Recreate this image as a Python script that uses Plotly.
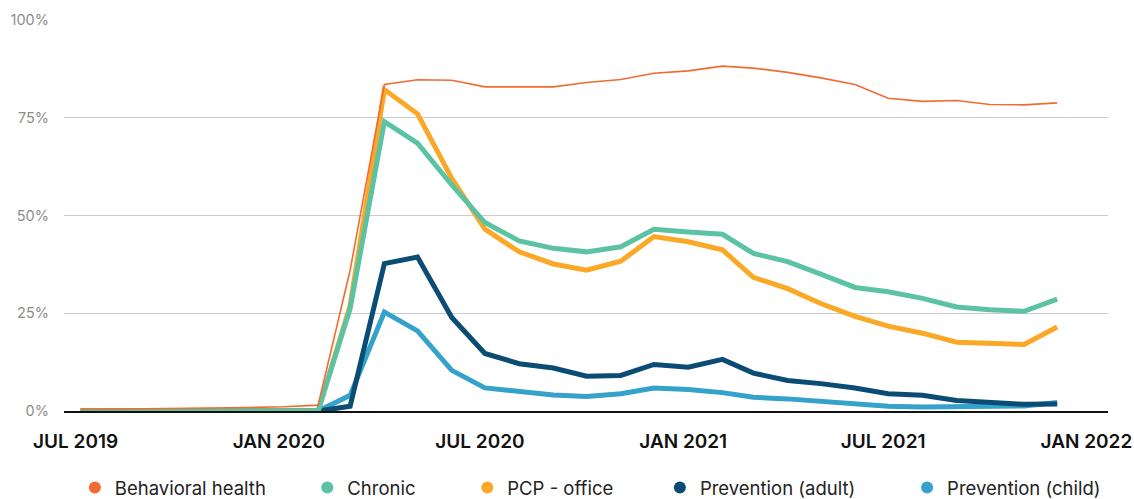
import pandas as pd
import plotly.graph_objects as go

# Monthly share of visits delivered via telehealth, by visit type (percent)
months = pd.date_range("2019-07-01", "2021-12-01", freq="MS")

behavioral_health = [0.4, 0.5, 0.5, 0.6, 0.7, 0.9, 1.1, 1.5, 36.0, 83.5,
                     84.7, 84.6, 82.9, 82.9, 82.9, 84.0, 84.8, 86.4, 87.0, 88.2,
                     87.7, 86.6, 85.2, 83.5, 80.0, 79.2, 79.4, 78.4, 78.3, 78.8]
chronic = [0, 0, 0, 0, 0, 0, 0, 0, 26.2, 74.0,
           68.5, 57.8, 48.2, 43.5, 41.6, 40.7, 42.0, 46.5, 45.8, 45.2,
           40.3, 38.2, 35.0, 31.6, 30.5, 28.8, 26.6, 25.9, 25.5, 28.6]
pcp_office = [0, 0, 0, 0, 0, 0, 0, 0, 27.0, 82.2,
              76.0, 59.5, 46.5, 40.7, 37.6, 36.0, 38.3, 44.6, 43.3, 41.2,
              34.2, 31.3, 27.5, 24.2, 21.7, 19.9, 17.6, 17.2, 17.0, 21.5]
prevention_adult = [0, 0, 0, 0, 0, 0, 0, 0, 1.2, 37.7,
                    39.4, 23.9, 14.7, 12.1, 11.0, 8.9, 9.1, 11.9, 11.2, 13.2,
                    9.7, 7.8, 7.0, 5.9, 4.4, 4.0, 2.7, 2.1, 1.7, 1.8]
prevention_child = [0, 0, 0, 0, 0, 0, 0, 0, 4.0, 25.3,
                    20.5, 10.4, 5.9, 5.1, 4.1, 3.7, 4.4, 5.9, 5.5, 4.7,
                    3.5, 3.1, 2.5, 1.7, 1.2, 1.0, 1.0, 1.2, 1.3, 2.2]

tick_dates = ["2019-07-01", "2020-01-01", "2020-07-01", "2021-01-01", "2021-07-01", "2022-01-01"]
tick_labels = ["JUL 2019", "JAN 2020", "JUL 2020", "JAN 2021", "JUL 2021", "JAN 2022"]
y_ticks = [0, 25, 50, 75, 100]
y_tick_labels = ["0%", "25%", "50%", "75%", "100%"]

# name, values, colour, line width, legend rank, legend padding
series = [
    ("Behavioral health", behavioral_health, "#F26B33", 1.6, 1, 7),
    ("Chronic", chronic, "#5BC3A4", 5, 2, 9),
    ("PCP - office", pcp_office, "#FBA826", 5, 3, 8),
    ("Prevention (adult)", prevention_adult, "#0B4C75", 5, 4, 9),
    ("Prevention (child)", prevention_child, "#35A2CB", 5, 5, 0),
]

fig = go.Figure()

# lines: drawn child first so the thin behavioral line sits on top
draw_order = [4, 3, 2, 1, 0]
for idx in draw_order:
    name, vals, color, width, rank, pad = series[idx]
    fig.add_trace(go.Scatter(
        x=months, y=vals, mode="lines", name=name,
        line=dict(color=color, width=width, shape="linear"),
        showlegend=False, hoverinfo="x+y+name",
    ))

# legend entries with round markers
for name, vals, color, width, rank, pad in series:
    fig.add_trace(go.Scatter(
        x=[None], y=[None], mode="markers",
        name=name + "\u00a0" * pad,
        marker=dict(color=color, size=15, symbol="circle"),
        legendrank=rank, showlegend=True,
    ))

fig.update_layout(
    width=1134, height=499,
    margin=dict(l=64, r=26, t=20, b=88, autoexpand=False),
    paper_bgcolor="white", plot_bgcolor="white",
    font=dict(family="Inter, Roboto, sans-serif", size=17, color="#222222"),
    showlegend=True,
    legend=dict(
        orientation="h", xref="container", yref="container",
        x=0.066, xanchor="left", y=0.022, yanchor="middle",
        font=dict(size=18.5, color="#222222"),
        itemsizing="constant", bgcolor="rgba(0,0,0,0)",
    ),
    xaxis=dict(
        type="date",
        range=["2019-06-16", "2022-01-16"],
        tickvals=tick_dates, ticktext=tick_labels,
        tickfont=dict(size=19, color="#111111", weight=600),
        showgrid=False, zeroline=False,
        showline=True, linecolor="#111111", linewidth=1.5,
        layer="below traces", automargin=False,
        ticks="", ticklabelstandoff=12, ticklabelshift=-5,
    ),
    yaxis=dict(
        range=[0, 100],
        tickvals=y_ticks, ticktext=y_tick_labels,
        tickfont=dict(size=14.5, color="#8C8C8C"),
        showgrid=True, gridcolor="#CCCCCC", gridwidth=1,
        zeroline=False, showline=False, automargin=False,
        ticks="", ticklabelstandoff=14,
    ),
)

fig.write_html("out.html")
